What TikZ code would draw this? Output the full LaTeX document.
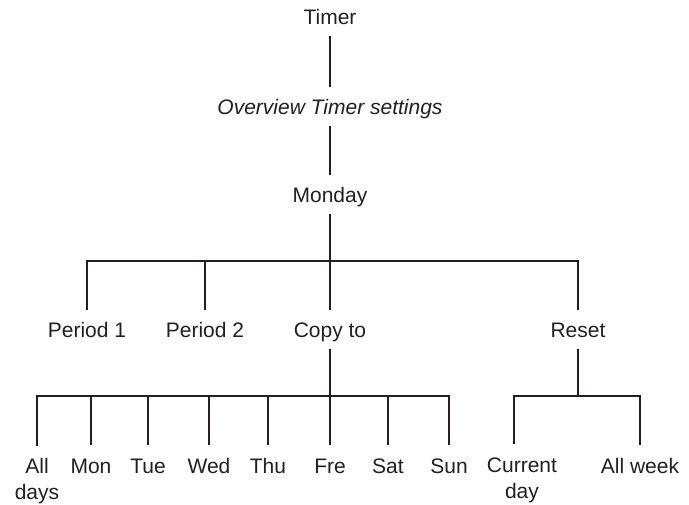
\documentclass[tikz,border=0pt]{standalone}
\usepackage{fontspec}
\setmainfont{Liberation Sans}
\usetikzlibrary{calc}

\definecolor{ink}{HTML}{231F20}
\newcommand{\lblfont}{\fontsize{21}{26}\selectfont}
\tikzset{
    lbl/.style={font=\lblfont, text=ink, inner xsep=2pt},
    one/.style={lbl, inner ysep=6.5pt, text height=21pt, text depth=4.5pt},
    two/.style={lbl, align=center, anchor=north, inner ysep=12pt},
    edge/.style={draw=ink, line width=2.6pt}
}

\begin{document}
\begin{tikzpicture}[x=1pt, y=1pt]
    \useasboundingbox (0,0) rectangle (689,-505);

    \node[one] (timer) at (330,-16.75) {Timer};
    \node[one, font=\lblfont\itshape] (overview) at (330,-106.75) {Overview Timer settings};
    \node[one] (monday) at (330,-194.75) {Monday};

    \node[one] (period1) at (87,-329.75) {Period 1};
    \node[one] (period2) at (205,-329.75) {Period 2};
    \node[one] (copyto) at (330,-329.75) {Copy to};
    \node[one] (reset) at (578,-329.75) {Reset};

    \node[two] (alldays) at (37,-446) {All\\days};
    \node[one] (mon) at (91,-464.75) {Mon};
    \node[one] (tue) at (148,-464.75) {Tue};
    \node[one] (wed) at (209,-464.75) {Wed};
    \node[one] (thu) at (268,-464.75) {Thu};
    \node[one] (fre) at (330,-464.75) {Fre};
    \node[one] (sat) at (388,-464.75) {Sat};
    \node[one] (sun) at (449,-464.75) {Sun};
    \node[two] (curday) at (522,-446) {Current\\day};
    \node[one] (allweek) at (640,-464.75) {All week};

    \coordinate (mfork) at (330,-261);
    \coordinate (cfork) at (330,-396);
    \coordinate (rfork) at (578,-396);

    \draw[edge] (timer) -- (overview);
    \draw[edge] (overview) -- (monday);
    \draw[edge] (monday) -- (mfork);
    \draw[edge] (period1) |- (mfork) -| (reset);
    \draw[edge] (period2) -- (period2 |- mfork);
    \draw[edge] (copyto) -- (mfork);

    \draw[edge] (copyto) -- (cfork);
    \draw[edge] (alldays.north) |- (cfork) -| (sun);
    \foreach \d in {mon,tue,wed,thu,fre,sat}
        \draw[edge] (\d) -- (\d |- cfork);

    \draw[edge] (reset) -- (rfork);
    \draw[edge] ([xshift=-8pt,yshift=2pt]curday.north) |- (rfork) -| (allweek);
\end{tikzpicture}
\end{document}
